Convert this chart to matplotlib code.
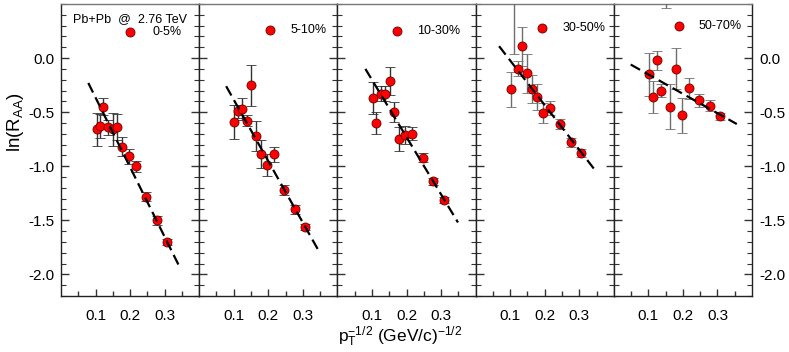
import matplotlib
matplotlib.use('Agg')
import matplotlib.pyplot as plt
import numpy as np

plt.rcParams['font.family'] = ['Liberation Sans', 'DejaVu Sans']
plt.rcParams['mathtext.fontset'] = 'custom'
plt.rcParams['mathtext.rm'] = 'Liberation Sans'
plt.rcParams['mathtext.it'] = 'Liberation Sans'
plt.rcParams['axes.unicode_minus'] = False

# centrality classes
labels = ['0-5%', '5-10%', '10-30%', '30-50%', '50-70%']

# p_T^-1/2 positions and ln(R_AA) values
x1 = [0.103, 0.113, 0.123, 0.136, 0.150, 0.163, 0.178, 0.196, 0.217, 0.245, 0.277, 0.306]
y1 = [-0.66, -0.63, -0.45, -0.64, -0.66, -0.64, -0.82, -0.91, -1.00, -1.28, -1.50, -1.70]
e1 = [0.15, 0.11, 0.08, 0.07, 0.15, 0.12, 0.09, 0.07, 0.05, 0.04, 0.04, 0.03]

x2 = [0.102, 0.112, 0.123, 0.137, 0.150, 0.163, 0.178, 0.196, 0.217, 0.246, 0.277, 0.306]
y2 = [-0.59, -0.49, -0.47, -0.58, -0.25, -0.72, -0.89, -0.99, -0.89, -1.22, -1.40, -1.56]
e2 = [0.16, 0.06, 0.10, 0.05, 0.19, 0.14, 0.13, 0.10, 0.07, 0.05, 0.04, 0.03]

x3 = [0.103, 0.113, 0.125, 0.138, 0.152, 0.163, 0.179, 0.197, 0.217, 0.247, 0.278, 0.308]
y3 = [-0.37, -0.60, -0.33, -0.33, -0.21, -0.50, -0.75, -0.71, -0.70, -0.92, -1.14, -1.31]
e3 = [0.15, 0.10, 0.07, 0.07, 0.13, 0.09, 0.11, 0.08, 0.06, 0.04, 0.035, 0.03]

x4 = [0.103, 0.110, 0.123, 0.135, 0.150, 0.162, 0.179, 0.195, 0.216, 0.244, 0.275, 0.304]
y4 = [-0.29, 0.65, -0.10, 0.11, -0.14, -0.29, -0.36, -0.51, -0.46, -0.61, -0.78, -0.88]
e4 = [0.16, 0.61, 0.07, 0.18, 0.18, 0.13, 0.12, 0.09, 0.065, 0.05, 0.04, 0.035]

x5 = [0.103, 0.114, 0.125, 0.138, 0.151, 0.163, 0.180, 0.197, 0.218, 0.248, 0.279, 0.306]
y5 = [-0.15, -0.36, -0.02, -0.30, 0.70, -0.45, -0.10, -0.53, -0.28, -0.39, -0.44, -0.54]
e5 = [0.20, 0.15, 0.09, 0.06, 0.24, 0.21, 0.19, 0.16, 0.10, 0.06, 0.05, 0.03]

# linear fits (end points of the dashed lines)
fit_x = [[0.079, 0.343], [0.078, 0.349], [0.081, 0.349], [0.068, 0.349], [0.049, 0.356]]
fit_y = [[-0.23, -1.93], [-0.26, -1.80], [-0.10, -1.52], [0.11, -1.05], [-0.06, -0.61]]

xs = [x1, x2, x3, x4, x5]
ys = [y1, y2, y3, y4, y5]
es = [e1, e2, e3, e4, e5]
bar_colors = ['#333333', '#333333', '#333333', '#6e6e6e', '#6e6e6e']

# legend positions in axes fraction (marker x, text x, y)
leg_pos = [(0.50, 0.66, 0.905), (0.51, 0.66, 0.911), (0.433, 0.58, 0.909),
           (0.478, 0.628, 0.917), (0.469, 0.616, 0.925)]

W, H = 789, 352
fig = plt.figure(figsize=(W / 100, H / 100), dpi=100)
left, right, top, bottom = 61 / W, 752 / W, 1 - 4 / H, 1 - 296 / H
axes = fig.subplots(1, 5, sharey=True)
fig.subplots_adjust(left=left, right=right, top=top, bottom=bottom, wspace=0)

for i, ax in enumerate(axes):
    ax.errorbar(xs[i], ys[i], yerr=es[i], fmt='o', color='red', ms=6.5,
                mec='#6a0000', mew=0.6, ecolor=bar_colors[i], elinewidth=1.0,
                capsize=3.5, capthick=1.0, zorder=3)
    ax.plot(fit_x[i], fit_y[i], color='black', lw=1.6, dashes=(4.8, 2.4), zorder=4)

    ax.set_xlim(0.0, 0.4)
    ax.set_ylim(-2.2, 0.5)
    ax.set_xticks([0.1, 0.2, 0.3])
    ax.set_xticks([0.05, 0.15, 0.25, 0.35], minor=True)
    ax.set_xticklabels(['0.1', '0.2', '0.3'])
    ax.set_yticks([-2.0, -1.5, -1.0, -0.5, 0.0])
    ax.set_yticks(np.arange(-2.2, 0.51, 0.1), minor=True)
    ax.yaxis.set_major_formatter(matplotlib.ticker.FormatStrFormatter('%.1f'))

    ax.tick_params(axis='x', which='both', direction='in', top=False, bottom=True,
                   labelsize=11, pad=9, color='#333333')
    ax.tick_params(axis='x', which='major', length=5, width=1)
    ax.tick_params(axis='x', which='minor', length=3.5, width=1)
    ax.tick_params(axis='y', which='both', direction='in', left=True, right=True,
                   labelleft=(i == 0), labelright=(i == 4), labelsize=11, pad=5,
                   color='#333333')
    ax.tick_params(axis='y', which='major', length=6, width=1)
    ax.tick_params(axis='y', which='minor', length=3.5, width=0.8)

    for s in ['left', 'right', 'bottom']:
        ax.spines[s].set_color('#222222')
        ax.spines[s].set_linewidth(1.0)
    ax.spines['top'].set_color('#777777')
    ax.spines['top'].set_linewidth(1.0)

    mx, tx, ly = leg_pos[i]
    ax.plot([mx], [ly], 'o', color='red', ms=6.5, mec='#6a0000', mew=0.6,
            transform=ax.transAxes, clip_on=False, zorder=5)
    ax.text(tx, ly, labels[i], transform=ax.transAxes, fontsize=9,
            va='center', ha='left')

axes[0].text(0.09, 0.947, 'Pb+Pb  @  2.76 TeV', transform=axes[0].transAxes,
             fontsize=9, va='center', ha='left')

fig.text(16 / W, 1 - 122 / H, r'ln(R$_{\mathrm{AA}}$)', rotation=90, fontsize=13.5,
         va='center', ha='center')
fig.text((left + right) / 2 - 6 / W, 1 - 337 / H,
         r'p$_{\mathrm{T}}^{\mathrm{-1/2}}$ (GeV/c)$^{\mathrm{-1/2}}$', fontsize=12.5,
         va='center', ha='center')

fig.savefig('out.png', dpi=100)
